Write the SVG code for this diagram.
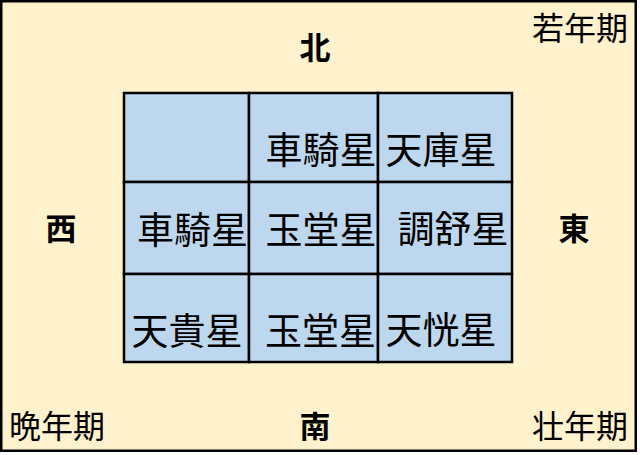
<svg xmlns="http://www.w3.org/2000/svg" width="640" height="455" viewBox="0 0 640 455">
<style>
.bg{fill:#FFF2CC;stroke:#000;stroke-width:2.5}
.cell{fill:#BDD7EE;stroke:#000;stroke-width:2.5}
.t{font-family:"Noto Sans CJK JP","Noto Sans CJK SC",sans-serif;font-size:37px;fill:#000;text-anchor:middle}
.d{font-family:"Noto Sans CJK JP","Noto Sans CJK SC",sans-serif;font-size:31px;font-weight:bold;fill:#000;text-anchor:middle}
.c{font-family:"Noto Sans CJK JP","Noto Sans CJK SC",sans-serif;font-size:32px;fill:#000}
</style>
<rect class="bg" x="1.25" y="1.25" width="634.5" height="449.5"/>
<g id="grid">
<g id="c11"><rect class="cell" x="124" y="93" width="125" height="89"/></g>
<g id="c12"><rect class="cell" x="249" y="93" width="129" height="89"/><text class="t" x="321" y="163.5">車騎星</text></g>
<g id="c13"><rect class="cell" x="378" y="93" width="134" height="89"/><text class="t" x="441" y="163.5">天庫星</text></g>
<g id="c21"><rect class="cell" x="124" y="182" width="125" height="92"/><text class="t" x="192.5" y="243.5">車騎星</text></g>
<g id="c22"><rect class="cell" x="249" y="182" width="129" height="92"/><text class="t" x="321" y="243.5">玉堂星</text></g>
<g id="c23"><rect class="cell" x="378" y="182" width="134" height="92"/><text class="t" x="453" y="242.5">調舒星</text></g>
<g id="c31"><rect class="cell" x="124" y="274" width="125" height="88"/><text class="t" x="187" y="344.5">天貴星</text></g>
<g id="c32"><rect class="cell" x="249" y="274" width="129" height="88"/><text class="t" x="320.5" y="344.5">玉堂星</text></g>
<g id="c33"><rect class="cell" x="378" y="274" width="134" height="88"/><text class="t" x="441" y="343.5">天恍星</text></g>
</g>
<g id="directions">
<text id="north" class="d" x="315" y="59">北</text>
<text id="south" class="d" x="315" y="438">南</text>
<text id="west" class="d" x="61" y="239.5">西</text>
<text id="east" class="d" x="574" y="240">東</text>
</g>
<g id="periods">
<text id="young" class="c" x="532" y="40">若年期</text>
<text id="late" class="c" x="9" y="438">晩年期</text>
<text id="prime" class="c" x="532" y="438">壮年期</text>
</g>
<g id="connectors"/>
</svg>
